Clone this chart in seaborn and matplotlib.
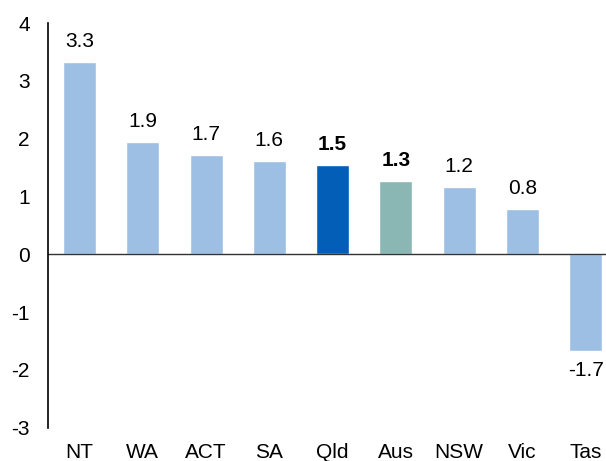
import matplotlib
matplotlib.use("Agg")
import matplotlib.pyplot as plt
import pandas as pd
import seaborn as sns

regions = ["NT", "WA", "ACT", "SA", "Qld", "Aus", "NSW", "Vic", "Tas"]
values = [3.33, 1.95, 1.72, 1.62, 1.55, 1.27, 1.17, 0.78, -1.68]
labels = ["3.3", "1.9", "1.7", "1.6", "1.5", "1.3", "1.2", "0.8", "-1.7"]
bold = ["Qld", "Aus"]

light = "#9DBFE3"
colors = {r: light for r in regions}
colors["Qld"] = "#035EB8"
colors["Aus"] = "#8AB6B3"

df = pd.DataFrame({"region": regions, "value": values})

sns.set_style("white")
plt.rcParams["font.family"] = ["Liberation Sans", "DejaVu Sans"]
plt.rcParams["axes.unicode_minus"] = False
plt.rcParams["text.color"] = "black"

fig = plt.figure(figsize=(6.06, 4.61), dpi=100)
ax = fig.add_axes([0.079, 0.072, 0.921, 0.878])
sns.barplot(data=df, x="region", y="value", hue="region", palette=colors,
            width=0.52, legend=False, ax=ax, saturation=1)

for i, (v, lab, r) in enumerate(zip(values, labels, regions)):
    w = "bold" if r in bold else "normal"
    if v >= 0:
        ax.text(i, v + 0.19, lab, ha="center", va="bottom", fontsize=15, fontweight=w)
    else:
        ax.text(i, v - 0.17, lab, ha="center", va="top", fontsize=15, fontweight=w)

ax.axhline(0, color="#333333", lw=1)
ax.set_ylim(-3, 4)
ax.set_xlim(-0.5, 8.32)
ax.set_yticks(range(-3, 5))
ax.set_xlabel("")
ax.set_ylabel("")
ax.tick_params(axis="both", length=0, labelsize=15, colors="black")
ax.tick_params(axis="x", pad=11)
ax.tick_params(axis="y", pad=13)
for s in ["top", "right", "bottom"]:
    ax.spines[s].set_visible(False)
ax.spines["left"].set_color("black")
ax.spines["left"].set_linewidth(1.2)

plt.savefig("out.png", dpi=100)
